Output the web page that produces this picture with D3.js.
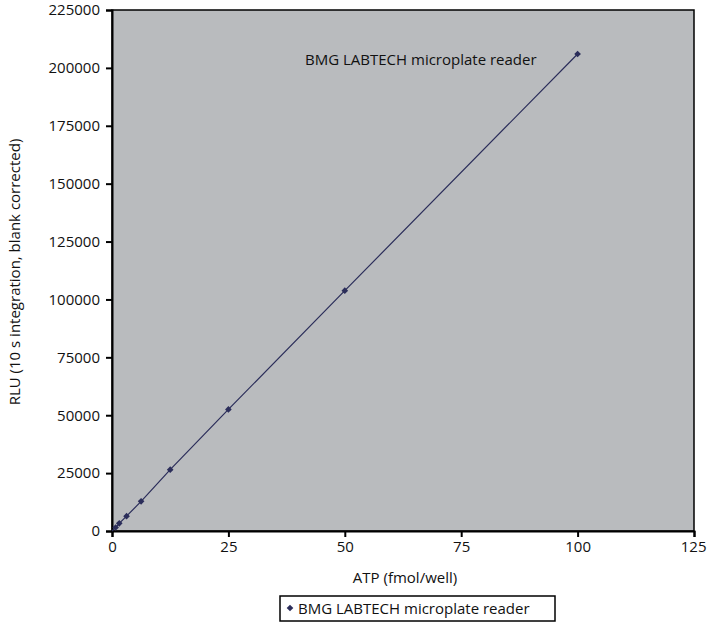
<!DOCTYPE html>
<html><head><meta charset="utf-8">
<script src="https://cdn.jsdelivr.net/npm/d3@7"></script>
<style>body{margin:0;background:#fff}text{font-family:"Open Sans",sans-serif;fill:#111}</style>
</head><body>
<svg id="c" width="709" height="644"></svg>
<script>
var atp = [0.78, 1.56, 3.125, 6.25, 12.5, 25, 50, 100];
var rlu = [1500, 3300, 6400, 12800, 26500, 52500, 103800, 206000];
var xTicks = [0, 25, 50, 75, 100, 125];
var yTicks = [0, 25000, 50000, 75000, 100000, 125000, 150000, 175000, 200000, 225000];
var seriesName = "BMG LABTECH microplate reader";

var svg = d3.select("#c");
var x = d3.scaleLinear().domain([0, 125]).range([112, 694]);
var y = d3.scaleLinear().domain([0, 225000]).range([531, 10]);

svg.append("rect").attr("x", 112).attr("y", 10).attr("width", 582).attr("height", 521)
  .attr("fill", "#b9bbbe").attr("stroke", "#000").attr("stroke-width", 1.5);

var gx = svg.append("g").attr("transform", "translate(0,531)")
  .call(d3.axisBottom(x).tickValues(xTicks).tickSize(6).tickPadding(4));
var gy = svg.append("g").attr("transform", "translate(112,0)")
  .call(d3.axisLeft(y).tickValues(yTicks).tickFormat(d3.format("d")).tickSize(6).tickPadding(6));
[gx, gy].forEach(function(g){
  g.selectAll("path").attr("stroke", "#000").attr("stroke-width", 2);
  g.selectAll("line").attr("stroke", "#000").attr("stroke-width", 2);
  g.selectAll("text").style("font-size", "15px").attr("fill", "#111");
});
gx.selectAll(".tick:last-of-type text").attr("text-anchor", "end").attr("dx", "12");

svg.append("text").attr("x", 405).attr("y", 583).attr("text-anchor", "middle")
  .style("font-size", "15px").text("ATP (fmol/well)");
svg.append("text").attr("transform", "translate(20,272) rotate(-90)").attr("text-anchor", "middle")
  .style("font-size", "15px").text("RLU (10 s integration, blank corrected)");

var diamond = d3.symbol().type(d3.symbolSquare).size(22);
var pts = atp.map(function(d, i){ return [d, rlu[i]]; });
svg.append("path").datum([[0, 0]].concat(pts)).attr("fill", "none").attr("stroke", "#2b2d5a")
  .attr("stroke-width", 1.2).attr("d", d3.line().x(function(d){ return x(d[0]); }).y(function(d){ return y(d[1]); }));
svg.selectAll(".pt").data(pts).enter().append("path")
  .attr("transform", function(d){ return "translate(" + x(d[0]) + "," + y(d[1]) + ") rotate(45)"; })
  .attr("d", diamond).attr("fill", "#2b2d5a");

svg.append("text").attr("x", 305).attr("y", 65).style("font-size", "15px").text(seriesName);

svg.append("rect").attr("x", 280).attr("y", 596).attr("width", 275).attr("height", 25)
  .attr("fill", "#fff").attr("stroke", "#000").attr("stroke-width", 1.5);
svg.append("path").attr("transform", "translate(290,608) rotate(45)")
  .attr("d", diamond).attr("fill", "#2b2d5a");
svg.append("text").attr("x", 298).attr("y", 614).style("font-size", "15px").text(seriesName);
</script>
</body></html>
